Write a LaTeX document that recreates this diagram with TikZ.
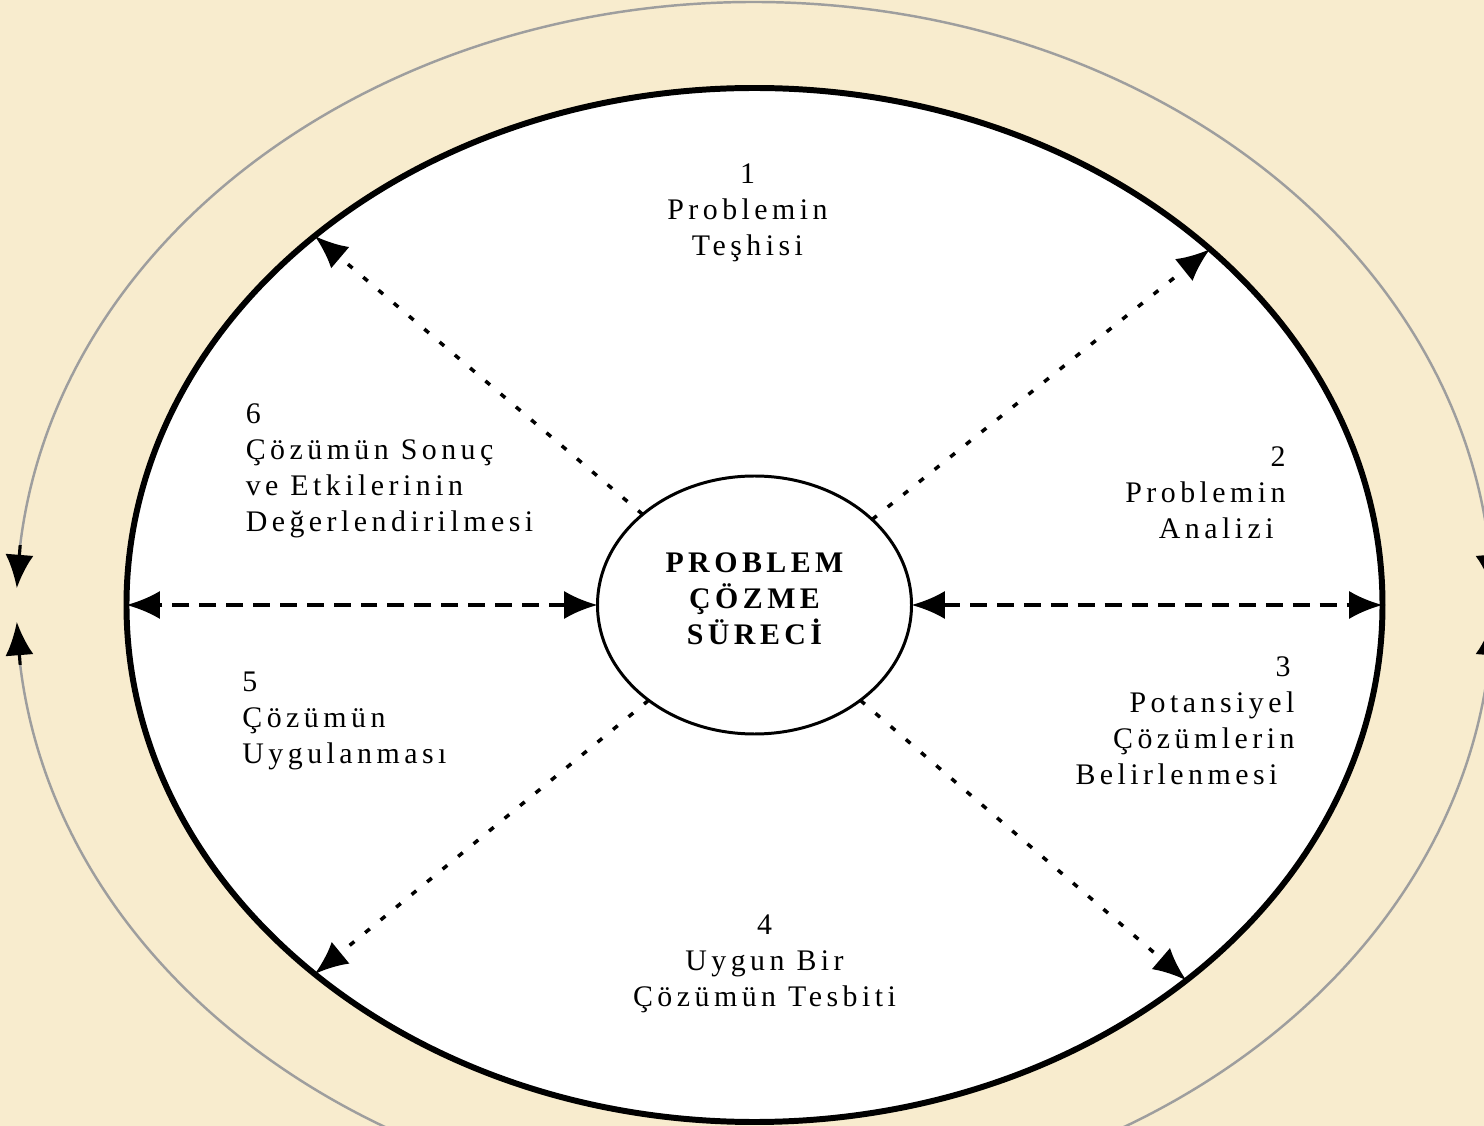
\documentclass[tikz,border=0pt]{standalone}
\usepackage{fontspec}
\setmainfont{Liberation Serif}[LetterSpace=15]
\usetikzlibrary{arrows.meta, positioning, shapes.geometric}

\definecolor{parchment}{RGB}{248,236,206}
\definecolor{loopgray}{RGB}{158,158,158}

\begin{document}
\begin{tikzpicture}[>={Latex[length=19pt,width=16pt]}, node distance=3cm and 4cm, on grid]
  \tikzstyle{stage}=[font=\fontsize{17}{20.5}\selectfont, inner sep=0pt]
  \tikzstyle{wheel}=[ellipse, draw=black, line width=3.4pt, fill=white, minimum width=25.12cm, minimum height=20.68cm, inner sep=0pt, outer sep=0pt]
  \tikzstyle{hub}=[ellipse, draw=black, line width=1.7pt, fill=white, minimum width=6.28cm, minimum height=5.16cm, inner sep=0pt, outer sep=0pt, align=center, font=\fontsize{17}{20.5}\selectfont\bfseries]
  \tikzstyle{dashlink}=[<->, line width=1.8pt, dash pattern=on 9.6pt off 5.7pt]
  \tikzstyle{dotlink}=[->, line width=2pt, dash pattern=on 3.4pt off 8pt]
  \tikzstyle{loopline}=[draw=loopgray, line width=1.4pt]
  \tikzstyle{looptip}=[->, line width=1.8pt]

  % background
  \fill[parchment] (-15.09,-10.42) rectangle (14.59,12.1);
  \useasboundingbox (-15.09,-10.42) rectangle (14.59,12.1);

  % outer cycle
  \coordinate (cycUL) at (174.3:14.76cm and 12.06cm);
  \coordinate (cycLL) at (185.7:14.76cm and 12.06cm);
  \coordinate (cycUR) at (5.7:14.76cm and 12.06cm);
  \coordinate (cycLR) at (354.3:14.76cm and 12.06cm);
  \coordinate (tipUL) at (178.4:14.76cm and 12.06cm);
  \coordinate (tipLL) at (181.6:14.76cm and 12.06cm);
  \coordinate (tipUR) at (1.6:14.76cm and 12.06cm);
  \coordinate (tipLR) at (358.4:14.76cm and 12.06cm);
  \draw[loopline] (cycUL) arc[start angle=174.3, end angle=5.7, x radius=14.76cm, y radius=12.06cm];
  \draw[loopline] (cycLL) arc[start angle=185.7, end angle=354.3, x radius=14.76cm, y radius=12.06cm];
  \draw[looptip] (cycUL) -- (tipUL);
  \draw[looptip] (cycLL) -- (tipLL);
  \draw[looptip] (cycUR) -- (tipUR);
  \draw[looptip] (cycLR) -- (tipLR);

  \node[wheel] (ring) at (0,0) {};
  \node[hub] (core) at (0,0) {PROBLEM\\ÇÖZME\\SÜRECİ\\[-13.7pt]\mbox{}};

  \node[stage, align=center] (diag) [above left=7.84cm and 0.14cm of core] {1\\Problemin\\Teşhisi};
  \node[stage, align=right] (anal) [above right=2.24cm and 9.02cm of core] {2\\Problemin\\Analizi\hspace*{0.24cm}};
  \node[stage, align=right] (cand) [below right=2.32cm and 8.61cm of core] {3\hspace*{0.08cm}\\Potansiyel\hspace*{0.24cm}\\Çözümlerin\\Belirlenmesi\hspace*{0.34cm}};
  \node[stage, align=center] (pick) [below right=7.18cm and 0.2cm of core] {4\\Uygun Bir\\Çözümün Tesbiti};
  \node[stage, align=left] (apply) [below left=2.32cm and 8.2cm of core] {5\\Çözümün\\Uygulanması};
  \node[stage, align=left] (eval) [above left=2.69cm and 7.3cm of core] {6\\Çözümün Sonuç\\ve Etkilerinin\\Değerlendirilmesi};

  % links
  \path (core.west) edge[dashlink] (ring.west);
  \path (core.east) edge[dashlink] (ring.east);
  \path (core.141) edge[dotlink] (ring.140.5);
  \path (core.36) edge[dotlink] (ring.38.2);
  \path (core.222.5) edge[dotlink] (ring.220.1);
  \path (core.318) edge[dotlink] (ring.319.8);
\end{tikzpicture}
\end{document}
